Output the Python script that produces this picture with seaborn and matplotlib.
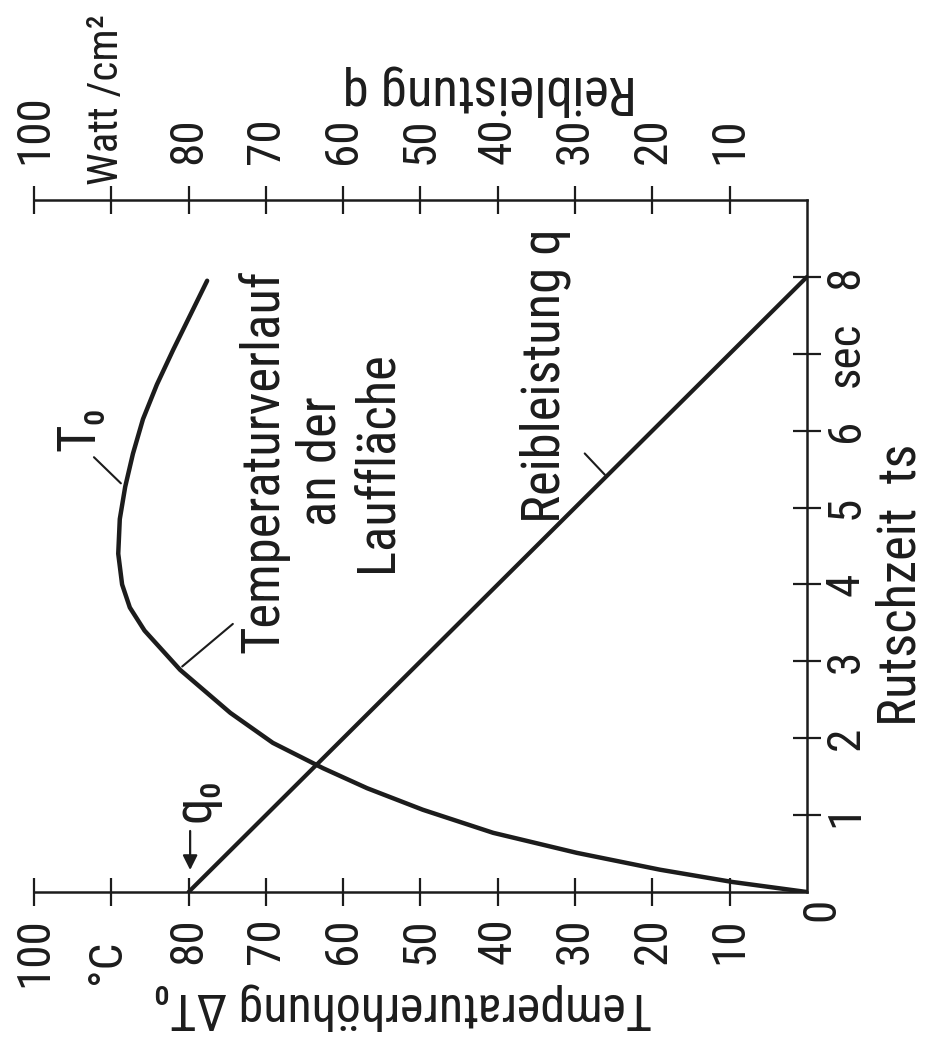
import numpy as np
import pandas as pd
import matplotlib
matplotlib.use("Agg")
import matplotlib.pyplot as plt
from matplotlib import font_manager
import seaborn as sns

# Temperaturverlauf an der Lauffläche (Rutschzeit in s, Temperatur in °C)
zeit_temp = [0, 0.13, 0.29, 0.51, 0.77, 1.07, 1.35, 1.61, 1.94, 2.33, 2.89, 3.4,
             3.7, 4.0, 4.4, 4.85, 5.27, 5.7, 6.15, 6.6, 7.05, 7.5, 7.95]
temp = [0, 9.6, 19, 29.8, 40.6, 49.7, 56.9, 62.6, 69.1, 74.6, 81.1, 85.7,
        87.6, 88.6, 89.1, 88.9, 88.2, 87.2, 85.9, 84.1, 82.0, 79.8, 77.6]

# Reibleistung q (Watt/cm2)
zeit_q = [0, 8]
q = [80, 0]

temp_ticks = [100, 90, 80, 70, 60, 50, 40, 30, 20, 10]
temp_labels = ["100", "", "80", "70", "60", "50", "40", "30", "20", "10"]
q_ticks = [100, 90, 80, 70, 60, 50, 40, 30, 20, 10]
q_labels = ["100", "", "80", "70", "60", "50", "40", "30", "20", "10"]
zeit_ticks = [1, 2, 3, 4, 5, 6, 7, 8]
zeit_labels = ["1", "2", "3", "4", "5", "6", "sec", "8"]

sns.set_style("white")

# narrow lettering if there is a condensed face, otherwise Roboto a bit smaller
installed = {f.name for f in font_manager.fontManager.ttflist}
narrow = [n for n in ['Liberation Sans Narrow', 'DejaVu Sans Condensed', 'Roboto Condensed']
          if n in installed]
if narrow:
    plt.rcParams['font.family'] = [narrow[0], 'DejaVu Sans']
    fs, fs_tick = 38, 34
else:
    plt.rcParams['font.family'] = ['Roboto', 'DejaVu Sans']
    fs, fs_tick = 32, 30
ink = '#1c1c1c'

df_t = pd.DataFrame({'zeit': zeit_temp, 'temp': temp})
df_q = pd.DataFrame({'zeit': zeit_q, 'q': q})

fig = plt.figure(figsize=(9.31, 10.46), dpi=100)
ax = fig.add_axes([0.0365, 0.1472, 0.8303, 0.6616])

# chart is drawn turned by 90 degrees: time runs upwards, temperature to the left
sns.lineplot(data=df_t, x='temp', y='zeit', sort=False, ax=ax, color=ink, lw=3.2,
             solid_capstyle='round', solid_joinstyle='round')
ax.set_xlim(100, 0)
ax.set_ylim(0, 9)

ax2 = ax.twiny()
sns.lineplot(data=df_q, x='q', y='zeit', sort=False, ax=ax2, color=ink, lw=3.0)
ax2.set_xlim(100, 0)
ax2.set_ylim(0, 9)

for a in (ax, ax2):
    a.set_xlabel('')
    a.set_ylabel('')
    for s in a.spines.values():
        s.set_visible(False)
ax.spines['bottom'].set_visible(True)
ax.spines['right'].set_visible(True)
ax2.spines['top'].set_visible(True)
for s in (ax.spines['bottom'], ax.spines['right'], ax2.spines['top']):
    s.set_linewidth(1.8)
    s.set_color(ink)

ax.set_xticks(temp_ticks)
ax.set_xticklabels(temp_labels)
ax.tick_params(axis='x', direction='inout', length=20, width=1.6, color=ink,
               labelsize=fs_tick, labelrotation=90, pad=8, labelcolor=ink, bottom=True)
ax.yaxis.tick_right()
ax.set_yticks(zeit_ticks)
ax.set_yticklabels(zeit_labels)
ax.tick_params(axis='y', direction='inout', length=20, width=1.6, color=ink,
               labelsize=fs_tick, labelrotation=90, pad=2, labelcolor=ink)
for lab in ax.get_yticklabels():
    lab.set_va('center')

ax2.set_xticks(q_ticks)
ax2.set_xticklabels(q_labels)
ax2.tick_params(axis='x', direction='inout', length=20, width=1.6, color=ink,
                labelsize=fs_tick, labelrotation=90, pad=16, labelcolor=ink)
ax2.tick_params(axis='y', left=False, right=False, labelleft=False, labelright=False)

ax.text(90.6, -0.62, "°C", rotation=90, ha='center', va='top', fontsize=fs_tick, color=ink, clip_on=False)
ax.text(90.6, 9.2, "Watt /cm²", rotation=90, ha='center', va='bottom', fontsize=fs_tick - 3,
        color=ink, clip_on=False)
ax.text(-1.8, -0.23, "0", rotation=90, ha='center', va='center', fontsize=fs_tick, color=ink, clip_on=False)

ax.text(52.3, -1.5, "Temperaturerhöhung ΔT₀", rotation=180, ha='center', va='center',
        fontsize=fs - 2, color=ink, clip_on=False)
ax.text(41.1, 10.42, "Reibleistung q", rotation=180, ha='center', va='center',
        fontsize=fs, color=ink, clip_on=False)
ax.text(-12.2, 4.0, "Rutschzeit  ts", rotation=90, ha='center', va='center',
        fontsize=fs, color=ink, clip_on=False)

ax.text(62.9, 5.6, "Temperaturverlauf\nan der\nLauffläche", rotation=90, ha='center',
        va='center', multialignment='center', linespacing=1.15, fontsize=fs, color=ink)
ax.text(33.9, 6.71, "Reibleistung q", rotation=90, ha='center', va='center',
        fontsize=fs, color=ink)
ax.text(94.0, 6.03, "T₀", rotation=90, ha='center', va='center', fontsize=fs, color=ink)
ax.text(79.2, 1.2, "q₀", rotation=90, ha='center', va='center', fontsize=fs, color=ink)

line = dict(arrowstyle='-', color=ink, lw=1.5)
ax.annotate("", xy=(88.5, 5.29), xytext=(92.5, 5.68), arrowprops=line)
ax.annotate("", xy=(81.1, 2.91), xytext=(74.0, 3.51), arrowprops=line)
ax.annotate("", xy=(25.9, 5.40), xytext=(29.0, 5.73), arrowprops=line)
ax.annotate("", xy=(79.8, 0.25), xytext=(79.8, 0.83),
            arrowprops=dict(arrowstyle='-|>', color=ink, lw=1.6, mutation_scale=22))

fig.savefig("out.png", dpi=100, facecolor='white')
